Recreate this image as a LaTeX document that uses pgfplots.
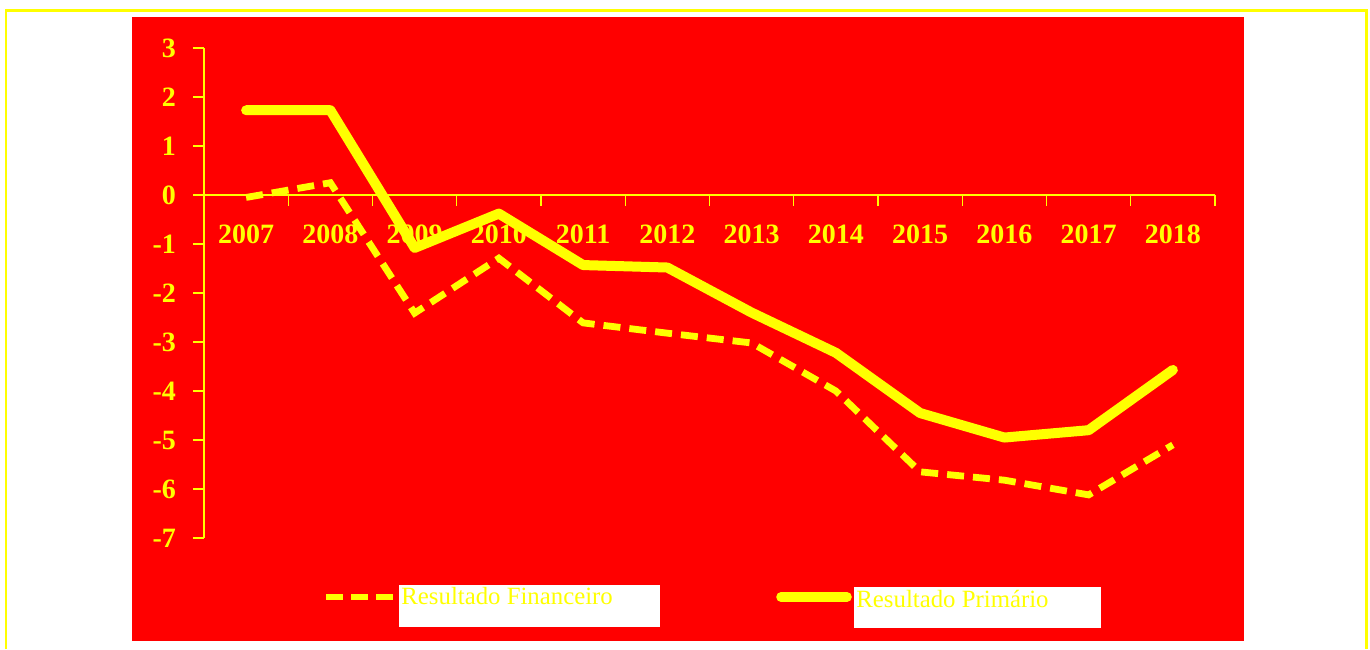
\documentclass[border=0pt]{standalone}
\usepackage{pgfplots}
\pgfplotsset{compat=1.18}
\usepackage{fontspec}
\setmainfont{Liberation Serif}
\definecolor{bgred}{RGB}{255,0,0}
\definecolor{ylw}{RGB}{255,255,0}
\begin{document}
\begin{tikzpicture}
\useasboundingbox (0,0) rectangle (685pt,324.5pt);
\fill[white] (0,0) rectangle (685pt,324.5pt);
\draw[ylw,line width=1.4pt] (3pt,0) -- (3pt,319.3pt) -- (683.2pt,319.3pt) -- (683.2pt,0);
\fill[bgred] (66pt,4pt) rectangle (622pt,316pt);
\begin{axis}[
  at={(123.06pt,227pt)}, anchor=origin,
  scale only axis,
  width=505.5pt, height=245pt,
  xmin=-0.5, xmax=11.5, ymin=-7, ymax=3,
  axis y line=left, axis x line=middle,
  axis line style={ylw, line width=0.6pt, -},
  every tick/.style={ylw, line width=0.6pt},
  tick align=outside,
  major tick length=5.5pt,
  xtick={-0.5,0.5,1.5,2.5,3.5,4.5,5.5,6.5,7.5,8.5,9.5,10.5,11.5},
  xticklabels={},
  extra x ticks={0,1,2,3,4,5,6,7,8,9,10,11},
  extra x tick labels={2007,2008,2009,2010,2011,2012,2013,2014,2015,2016,2017,2018},
  extra x tick style={major tick length=0pt, tick style={draw=none}, xticklabel style={yshift=-11.5pt}},
  ytick={-7,-6,-5,-4,-3,-2,-1,0,1,2,3},
  yticklabels={-7,-6,-5,-4,-3,-2,-1,0,1,2,3},
  ticklabel style={ylw, font=\bfseries\fontsize{14}{14}\selectfont},
  yticklabel style={xshift=-5pt},
  clip=false,
]
\addplot[ylw, line width=3.4pt, dash pattern=on 8.5pt off 4.5pt] coordinates {
(0,-0.05) (1,0.25) (2,-2.41) (3,-1.29) (4,-2.61) (5,-2.82) (6,-3.02) (7,-4.0) (8,-5.65) (9,-5.82) (10,-6.12) (11,-5.10)};
\addplot[ylw, line width=5pt, line join=round, line cap=round] coordinates {
(0,1.73) (1,1.73) (2,-1.08) (3,-0.38) (4,-1.43) (5,-1.48) (6,-2.40) (7,-3.22) (8,-4.45) (9,-4.95) (10,-4.80) (11,-3.57)};
\end{axis}
% legend
\draw[ylw, line width=3pt, dash pattern=on 8.5pt off 4pt] (163pt,26pt) -- (197pt,26pt);
\draw[ylw, line width=4.8pt, line cap=round] (390.5pt,26pt) -- (423.5pt,26pt);
\fill[white] (199.5pt,11pt) rectangle (330pt,32pt);
\fill[white] (427pt,10.5pt) rectangle (550.5pt,31pt);
\node[anchor=base west, inner sep=0pt, text=ylw, font=\fontsize{12.4}{12.4}\selectfont] at (200.5pt,22.5pt) {Resultado Financeiro};
\node[anchor=base west, inner sep=0pt, text=ylw, font=\fontsize{12.4}{12.4}\selectfont] at (428pt,21pt) {Resultado Primário};
\end{tikzpicture}
\end{document}
